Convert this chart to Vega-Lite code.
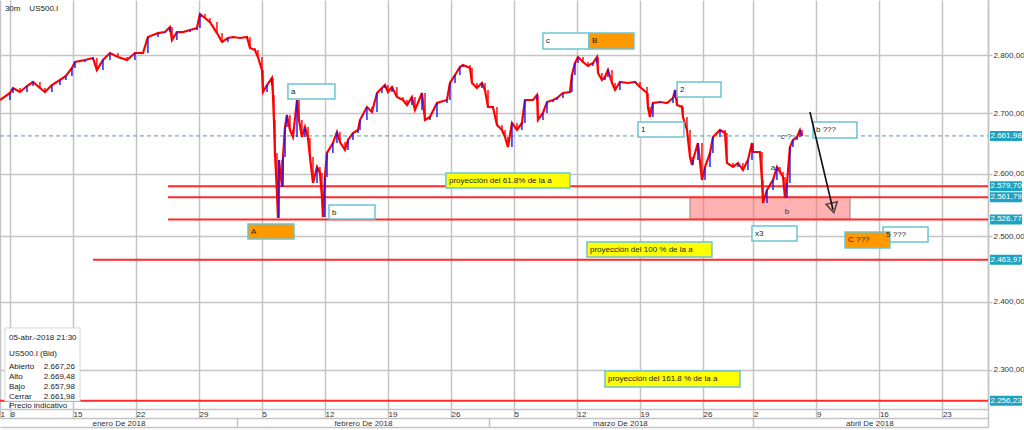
{
  "$schema": "https://vega.github.io/schema/vega-lite/v6.json",
  "width": 988,
  "height": 409,
  "autosize": {"type": "none"},
  "padding": {"left": 0, "top": 0, "right": 36, "bottom": 21},
  "background": "white",
  "config": {
    "locale": {"number": {"decimal": ",", "thousands": ".", "grouping": [3], "currency": ["", ""]}},
    "view": {"stroke": null},
    "font": "Liberation Sans",
    "text": {"font": "Liberation Sans", "fontSize": 8, "color": "#222222"},
    "axis": {"labelFont": "Liberation Sans", "labelFontSize": 8, "labelColor": "#333333", "gridColor": "#c4c4c4", "gridWidth": 1.5, "domainColor": "#c4c4c4", "domainWidth": 1.5, "tickColor": "#c4c4c4", "tickWidth": 1.5}
  },
  "datasets": {
    "price": [
      {"t":-0.79,"p":2722.4},{"t":0,"p":2734.3},{"t":0.24,"p":2742.9},{"t":0.79,"p":2736.0},{"t":1.35,"p":2746.3},{"t":1.83,"p":2753.2},{"t":2.38,"p":2742.9},{"t":2.78,"p":2736.0},{"t":3.33,"p":2748.0},{"t":3.97,"p":2756.6},{"t":4.44,"p":2763.5},{"t":4.92,"p":2777.4},{"t":5.16,"p":2787.8},{"t":5.95,"p":2791.3},{"t":6.59,"p":2794.8},{"t":6.9,"p":2773.9},{"t":7.38,"p":2791.3},{"t":7.94,"p":2803.5},{"t":8.57,"p":2796.5},{"t":9.29,"p":2791.3},{"t":9.92,"p":2803.5},{"t":10.56,"p":2803.5},{"t":10.95,"p":2831.7},{"t":11.75,"p":2838.7},{"t":12.3,"p":2840.5},{"t":12.7,"p":2849.4},{"t":12.86,"p":2826.3},{"t":13.25,"p":2840.5},{"t":13.73,"p":2840.5},{"t":14.29,"p":2844.1},{"t":14.84,"p":2847.6},{"t":15.08,"p":2872.6},{"t":15.48,"p":2865.5},{"t":15.87,"p":2858.3},{"t":16.43,"p":2838.7},{"t":16.83,"p":2822.8},{"t":17.3,"p":2829.9},{"t":17.7,"p":2831.7},{"t":18.25,"p":2829.9},{"t":18.81,"p":2831.7},{"t":19.05,"p":2812.3},{"t":19.44,"p":2808.8},{"t":19.68,"p":2796.5},{"t":20.0,"p":2773.9},{"t":20.08,"p":2736.0},{"t":20.4,"p":2748.0},{"t":20.79,"p":2760.1},{"t":20.87,"p":2730.9},{"t":20.95,"p":2688.6},{"t":21.03,"p":2633.8},{"t":21.19,"p":2568.8},{"t":21.27,"p":2529.0},{"t":21.35,"p":2622.3},{"t":21.59,"p":2578.5},{"t":21.67,"p":2627.2},{"t":21.83,"p":2676.9},{"t":21.98,"p":2697.0},{"t":22.22,"p":2671.9},{"t":22.46,"p":2660.2},{"t":22.78,"p":2722.4},{"t":22.94,"p":2688.6},{"t":23.17,"p":2660.2},{"t":23.41,"p":2676.9},{"t":23.65,"p":2658.6},{"t":23.81,"p":2627.2},{"t":24.05,"p":2584.9},{"t":24.37,"p":2610.9},{"t":24.6,"p":2601.2},{"t":24.76,"p":2562.5},{"t":24.84,"p":2530.6},{"t":25.0,"p":2594.6},{"t":25.16,"p":2633.8},{"t":25.63,"p":2650.2},{"t":25.95,"p":2668.5},{"t":26.19,"p":2651.9},{"t":26.59,"p":2638.7},{"t":26.83,"p":2655.2},{"t":27.22,"p":2666.9},{"t":27.62,"p":2671.9},{"t":27.78,"p":2688.6},{"t":28.33,"p":2710.5},{"t":28.73,"p":2702.1},{"t":29.13,"p":2734.3},{"t":29.52,"p":2742.9},{"t":29.76,"p":2748.0},{"t":30.0,"p":2736.0},{"t":30.32,"p":2744.6},{"t":30.71,"p":2727.5},{"t":31.19,"p":2722.4},{"t":31.51,"p":2713.9},{"t":31.9,"p":2727.5},{"t":32.14,"p":2705.4},{"t":32.7,"p":2734.3},{"t":32.94,"p":2688.6},{"t":33.33,"p":2693.6},{"t":33.89,"p":2717.3},{"t":34.68,"p":2722.4},{"t":34.92,"p":2751.5},{"t":35.32,"p":2765.2},{"t":35.71,"p":2779.1},{"t":35.95,"p":2782.6},{"t":36.51,"p":2777.4},{"t":36.67,"p":2751.5},{"t":37.06,"p":2742.9},{"t":37.46,"p":2751.5},{"t":37.7,"p":2739.5},{"t":37.94,"p":2710.5},{"t":38.33,"p":2710.5},{"t":38.65,"p":2680.2},{"t":39.05,"p":2671.9},{"t":39.29,"p":2660.2},{"t":39.52,"p":2643.6},{"t":39.84,"p":2683.6},{"t":40.24,"p":2671.9},{"t":40.63,"p":2683.6},{"t":40.87,"p":2722.4},{"t":41.51,"p":2722.4},{"t":41.83,"p":2730.9},{"t":41.9,"p":2688.6},{"t":42.3,"p":2700.4},{"t":42.62,"p":2719.0},{"t":43.1,"p":2722.4},{"t":43.41,"p":2725.8},{"t":43.89,"p":2734.3},{"t":44.44,"p":2736.0},{"t":44.6,"p":2765.2},{"t":44.84,"p":2786.0},{"t":45.08,"p":2796.5},{"t":45.48,"p":2787.8},{"t":45.87,"p":2780.8},{"t":46.27,"p":2786.0},{"t":46.59,"p":2796.5},{"t":46.67,"p":2768.7},{"t":46.98,"p":2756.6},{"t":47.22,"p":2761.8},{"t":47.46,"p":2773.9},{"t":47.78,"p":2751.5},{"t":48.02,"p":2739.5},{"t":48.41,"p":2753.2},{"t":49.05,"p":2751.5},{"t":49.6,"p":2753.2},{"t":50.0,"p":2744.6},{"t":50.56,"p":2734.3},{"t":50.63,"p":2710.5},{"t":50.79,"p":2693.6},{"t":51.03,"p":2717.3},{"t":51.59,"p":2719.0},{"t":52.14,"p":2717.3},{"t":52.62,"p":2725.8},{"t":52.78,"p":2739.5},{"t":52.94,"p":2713.9},{"t":53.33,"p":2710.5},{"t":53.41,"p":2693.6},{"t":53.73,"p":2671.9},{"t":53.97,"p":2627.2},{"t":54.13,"p":2614.1},{"t":54.21,"p":2622.3},{"t":54.6,"p":2650.2},{"t":54.92,"p":2589.8},{"t":55.16,"p":2610.9},{"t":55.56,"p":2633.8},{"t":55.79,"p":2660.2},{"t":56.35,"p":2671.9},{"t":56.75,"p":2666.9},{"t":56.9,"p":2617.4},{"t":57.38,"p":2610.9},{"t":57.78,"p":2617.4},{"t":58.17,"p":2606.0},{"t":58.57,"p":2622.3},{"t":58.89,"p":2650.2},{"t":58.97,"p":2635.4},{"t":59.52,"p":2635.4},{"t":59.68,"p":2589.8},{"t":59.76,"p":2552.9},{"t":60.08,"p":2573.7},{"t":60.56,"p":2589.8},{"t":60.87,"p":2610.9},{"t":61.11,"p":2602.8},{"t":61.35,"p":2594.6},{"t":61.51,"p":2560.9},{"t":61.67,"p":2584.9},{"t":61.9,"p":2643.6},{"t":62.14,"p":2655.2},{"t":62.46,"p":2660.2},{"t":62.7,"p":2671.9},{"t":62.86,"p":2661.98}
    ],
    "levels": [
      {"p": 2579.70, "t1": 12.54, "t2": 77.62},
      {"p": 2561.79, "t1": 12.54, "t2": 77.62},
      {"p": 2526.77, "t1": 12.54, "t2": 77.62},
      {"p": 2463.97, "t1": 6.59, "t2": 77.62},
      {"p": 2256.23, "t1": -0.79, "t2": 77.62}
    ],
    "tags": [
      {"p": 2661.98}, {"p": 2579.70}, {"p": 2561.79}, {"p": 2526.77}, {"p": 2463.97}, {"p": 2256.23}
    ],
    "zone": [
      {"t1": 53.97, "t2": 66.67, "p1": 2561.79, "p2": 2526.77}
    ],
    "boxes": [
      {"label": "a", "kind": "wave", "t1": 22.06, "t2": 25.79, "p1": 2749.7, "p2": 2724.1},
      {"label": "b", "kind": "wave", "t1": 25.32, "t2": 28.97, "p1": 2549.7, "p2": 2527.4},
      {"label": "A", "kind": "target", "t1": 18.89, "t2": 22.54, "p1": 2519.5, "p2": 2496.0},
      {"label": "c", "kind": "wave", "t1": 42.3, "t2": 45.95, "p1": 2838.7, "p2": 2810.5},
      {"label": "B", "kind": "target", "t1": 45.95, "t2": 49.52, "p1": 2838.7, "p2": 2810.5},
      {"label": "2", "kind": "wave", "t1": 52.94, "t2": 56.43, "p1": 2753.2, "p2": 2727.5},
      {"label": "1", "kind": "wave", "t1": 49.84, "t2": 53.49, "p1": 2685.3, "p2": 2660.2},
      {"label": "b ???", "kind": "wave", "t1": 63.73, "t2": 67.22, "p1": 2685.3, "p2": 2658.6},
      {"label": "x3", "kind": "wave", "t1": 58.89, "t2": 62.46, "p1": 2516.4, "p2": 2492.9},
      {"label": "5 ???", "kind": "wave", "t1": 69.29, "t2": 72.86, "p1": 2514.8, "p2": 2491.3},
      {"label": "C ???", "kind": "target", "t1": 66.27, "t2": 69.84, "p1": 2506.9, "p2": 2482.0},
      {"label": "proyección del 61.8% de la a", "kind": "proj", "t1": 34.6, "t2": 44.44, "p1": 2601.2, "p2": 2576.8},
      {"label": "proyección del 100 % de la a", "kind": "proj", "t1": 45.79, "t2": 55.71, "p1": 2491.3, "p2": 2468.1},
      {"label": "proyección del 161.8 % de la a", "kind": "proj", "t1": 47.22, "t2": 57.94, "p1": 2298.4, "p2": 2275.5}
    ],
    "notes": [
      {"label": "c ?", "t": 61.6, "p": 2660.2},
      {"label": "a", "t": 60.56, "p": 2609.2},
      {"label": "b", "t": 61.67, "p": 2538.5}
    ],
    "arrow": [
      {"t1": 63.49, "p1": 2702.1, "t2": 65.32, "p2": 2542.0}
    ],
    "head": [
      {"t": 65.3, "p": 2545.0}
    ],
    "infobox": [
      {"t1": -0.4, "t2": 5.56, "p1": 2361.1, "p2": 2255.6}
    ],
    "info": [
      {"role": "date", "label": "05-abr.-2018 21:30", "t": -0.08, "p": 2346.5},
      {"role": "head", "label": "US500.I (Bid)", "t": -0.08, "p": 2323.3},
      {"role": "name", "label": "Abierto", "t": -0.08, "p": 2304.6},
      {"role": "name", "label": "Alto", "t": -0.08, "p": 2290.3},
      {"role": "name", "label": "Bajo", "t": -0.08, "p": 2275.5},
      {"role": "name", "label": "Cerrar", "t": -0.08, "p": 2261.6},
      {"role": "name", "label": "Precio indicativo", "t": -0.08, "p": 2248.7},
      {"role": "value", "label": "2.667,26", "t": 5.16, "p": 2304.6},
      {"role": "value", "label": "2.669,48", "t": 5.16, "p": 2290.3},
      {"role": "value", "label": "2.657,98", "t": 5.16, "p": 2275.5},
      {"role": "value", "label": "2.661,98", "t": 5.16, "p": 2261.6}
    ],
    "header": [
      {"label": "30m\u00a0\u00a0\u00a0\u00a0US500.I", "t": -0.4, "p": 2881.6}
    ]
  },
  "resolve": {"axis": {"x": "independent", "y": "independent"}},
  "layer": [
    {
      "data": {"name": "zone"},
      "mark": {"type": "rect", "fill": "#ff6666", "fillOpacity": 0.5, "stroke": "#9a8080", "strokeWidth": 1},
      "encoding": {
        "x": {"field": "t1", "type": "quantitative", "scale": {"domain": [-0.79, 77.62], "nice": false, "zero": false},
              "axis": {"orient": "bottom", "offset": 9, "values": [18, 38, 59, 77.62], "labels": false, "ticks": true, "tickSize": 9, "domain": false, "grid": false, "title": null}},
        "x2": {"field": "t2"},
        "y": {"field": "p1", "type": "quantitative", "scale": {"type": "log", "domain": [2244.5, 2897.9], "nice": false, "zero": false}, "title": null,
              "axis": {"orient": "right", "values": [2300, 2400, 2500, 2600, 2700, 2800], "format": ",.2f", "grid": true, "tickSize": 4, "domain": true, "labelPadding": 1, "labelBaseline": "middle", "title": null}},
        "y2": {"field": "p2"}
      }
    },
    {
      "data": {"name": "tags"},
      "transform": [{"filter": "datum.p > 2600"}],
      "mark": {"type": "rule", "color": "#4e9ea6", "strokeWidth": 1, "strokeDash": [4, 3]},
      "encoding": {
        "x": {"datum": -0.79, "type": "quantitative", "scale": {"domain": [-0.79, 77.62], "nice": false, "zero": false}, "axis": null},
        "x2": {"datum": 77.62},
        "y": {"field": "p", "type": "quantitative", "scale": {"type": "log", "domain": [2244.5, 2897.9], "nice": false, "zero": false}, "title": null, "axis": null}
      }
    },
    {
      "data": {"name": "levels"},
      "mark": {"type": "rule", "color": "#ff2a2a", "strokeWidth": 2},
      "encoding": {
        "x": {"field": "t1", "type": "quantitative", "scale": {"domain": [-0.79, 77.62], "nice": false, "zero": false},
              "axis": {"orient": "bottom", "offset": 9, "values": [8.61, 28.02, 48.41, 68.2],
                       "labelExpr": "['enero De 2018','febrero De 2018','marzo De 2018','abril De 2018'][indexof([8.61,28.02,48.41,68.2], datum.value)]",
                       "ticks": false, "tickSize": 0, "grid": false, "domain": true, "labelBaseline": "top", "labelPadding": 1, "labelAlign": "center", "labelOverlap": false, "labelFlush": false, "title": null}},
        "x2": {"field": "t2"},
        "y": {"field": "p", "type": "quantitative", "scale": {"type": "log", "domain": [2244.5, 2897.9], "nice": false, "zero": false}, "title": null, "axis": null}
      }
    },
    {
      "data": {"name": "price"},
      "mark": {"type": "line", "color": "#ff0000", "strokeWidth": 2.2, "strokeJoin": "miter"},
      "encoding": {
        "x": {"field": "t", "type": "quantitative", "scale": {"domain": [-0.79, 77.62], "nice": false, "zero": false},
              "axis": {"orient": "bottom", "values": [-0.79, 0, 5, 10, 15, 20, 25, 30, 35, 40, 45, 50, 55, 59, 64, 69, 74, 77.62],
                       "labelExpr": "['1','8','15','22','29','5','12','19','26','5','12','19','26','2','9','16','23',''][indexof([-0.79,0,5,10,15,20,25,30,35,40,45,50,55,59,64,69,74,77.62], datum.value)]",
                       "grid": true, "tickSize": 9, "domain": true, "labelAlign": "left", "labelDx": 2, "labelBaseline": "top", "labelPadding": -8, "labelOverlap": false, "labelBound": false, "labelFlush": false, "title": null}},
        "y": {"field": "p", "type": "quantitative", "scale": {"type": "log", "domain": [2244.5, 2897.9], "nice": false, "zero": false}, "title": null, "axis": null}
      }
    },
    {
      "data": {"name": "price"},
      "transform": [
        {"window": [{"op": "lag", "field": "p", "as": "pp"}], "sort": [{"field": "t"}]},
        {"filter": "datum.pp != null"}
      ],
      "mark": {"type": "rule", "strokeWidth": 1.4},
      "encoding": {
        "x": {"field": "t", "type": "quantitative", "scale": {"domain": [-0.79, 77.62], "nice": false, "zero": false}, "axis": null},
        "y": {"field": "pp", "type": "quantitative", "scale": {"type": "log", "domain": [2244.5, 2897.9], "nice": false, "zero": false}, "title": null, "axis": null},
        "y2": {"field": "p"},
        "color": {"condition": {"test": "datum.p > datum.pp", "value": "#1414ff"}, "value": "#ff0000"}
      }
    },
    {
      "data": {"name": "boxes"},
      "mark": {"type": "rect", "stroke": "#6cc4d2", "strokeWidth": 1.5},
      "encoding": {
        "x": {"field": "t1", "type": "quantitative", "scale": {"domain": [-0.79, 77.62], "nice": false, "zero": false},
              "axis": {"orient": "bottom", "offset": 18, "labels": false, "ticks": false, "grid": false, "domain": true, "title": null}},
        "x2": {"field": "t2"},
        "y": {"field": "p1", "type": "quantitative", "scale": {"type": "log", "domain": [2244.5, 2897.9], "nice": false, "zero": false}, "title": null, "axis": null},
        "y2": {"field": "p2"},
        "fill": {"field": "kind", "type": "nominal", "scale": {"domain": ["wave", "target", "proj"], "range": ["#ffffff", "#ff9900", "#ffff00"]}, "legend": null}
      }
    },
    {
      "data": {"name": "boxes"},
      "mark": {"type": "text", "align": "left", "baseline": "top", "dx": 3, "dy": 4, "fontSize": 8, "color": "#222222"},
      "encoding": {
        "x": {"field": "t1", "type": "quantitative", "scale": {"domain": [-0.79, 77.62], "nice": false, "zero": false}, "axis": null},
        "y": {"field": "p1", "type": "quantitative", "scale": {"type": "log", "domain": [2244.5, 2897.9], "nice": false, "zero": false}, "title": null, "axis": null},
        "text": {"field": "label"}
      }
    },
    {
      "data": {"name": "notes"},
      "mark": {"type": "text", "align": "center", "baseline": "middle", "fontSize": 8, "color": "#333333"},
      "encoding": {
        "x": {"field": "t", "type": "quantitative", "scale": {"domain": [-0.79, 77.62], "nice": false, "zero": false}, "axis": null},
        "y": {"field": "p", "type": "quantitative", "scale": {"type": "log", "domain": [2244.5, 2897.9], "nice": false, "zero": false}, "title": null, "axis": null},
        "text": {"field": "label"}
      }
    },
    {
      "data": {"name": "arrow"},
      "mark": {"type": "rule", "color": "#111111", "strokeWidth": 1.6},
      "encoding": {
        "x": {"field": "t1", "type": "quantitative", "scale": {"domain": [-0.79, 77.62], "nice": false, "zero": false}, "axis": null},
        "x2": {"field": "t2"},
        "y": {"field": "p1", "type": "quantitative", "scale": {"type": "log", "domain": [2244.5, 2897.9], "nice": false, "zero": false}, "title": null, "axis": null},
        "y2": {"field": "p2"}
      }
    },
    {
      "data": {"name": "head"},
      "mark": {"type": "point", "shape": "triangle-down", "size": 130, "filled": false, "stroke": "#111111", "strokeWidth": 1.5, "angle": 347},
      "encoding": {
        "x": {"field": "t", "type": "quantitative", "scale": {"domain": [-0.79, 77.62], "nice": false, "zero": false}, "axis": null},
        "y": {"field": "p", "type": "quantitative", "scale": {"type": "log", "domain": [2244.5, 2897.9], "nice": false, "zero": false}, "title": null, "axis": null}
      }
    },
    {
      "data": {"name": "infobox"},
      "mark": {"type": "rect", "fill": "#ffffff", "stroke": "#d6d6d6", "strokeWidth": 1},
      "encoding": {
        "x": {"field": "t1", "type": "quantitative", "scale": {"domain": [-0.79, 77.62], "nice": false, "zero": false}, "axis": null},
        "x2": {"field": "t2"},
        "y": {"field": "p1", "type": "quantitative", "scale": {"type": "log", "domain": [2244.5, 2897.9], "nice": false, "zero": false}, "title": null, "axis": null},
        "y2": {"field": "p2"}
      }
    },
    {
      "data": {"name": "info"},
      "transform": [{"filter": "datum.role != 'value'"}],
      "mark": {"type": "text", "align": "left", "baseline": "middle", "fontSize": 8, "color": "#222222"},
      "encoding": {
        "x": {"field": "t", "type": "quantitative", "scale": {"domain": [-0.79, 77.62], "nice": false, "zero": false}, "axis": null},
        "y": {"field": "p", "type": "quantitative", "scale": {"type": "log", "domain": [2244.5, 2897.9], "nice": false, "zero": false}, "title": null, "axis": null},
        "text": {"field": "label"},
        "fontWeight": {"condition": {"test": "datum.role == 'head'", "value": "bold"}, "value": "normal"}
      }
    },
    {
      "data": {"name": "info"},
      "transform": [{"filter": "datum.role == 'value'"}],
      "mark": {"type": "text", "align": "right", "baseline": "middle", "fontSize": 8, "color": "#222222"},
      "encoding": {
        "x": {"field": "t", "type": "quantitative", "scale": {"domain": [-0.79, 77.62], "nice": false, "zero": false}, "axis": null},
        "y": {"field": "p", "type": "quantitative", "scale": {"type": "log", "domain": [2244.5, 2897.9], "nice": false, "zero": false}, "title": null, "axis": null},
        "text": {"field": "label"}
      }
    },
    {
      "data": {"name": "tags"},
      "mark": {"type": "rule", "color": "#1ca3c1", "strokeWidth": 10, "strokeCap": "butt"},
      "encoding": {
        "x": {"datum": 77.78, "type": "quantitative", "scale": {"domain": [-0.79, 77.62], "nice": false, "zero": false}, "axis": null},
        "x2": {"datum": 80.32},
        "y": {"field": "p", "type": "quantitative", "scale": {"type": "log", "domain": [2244.5, 2897.9], "nice": false, "zero": false}, "title": null, "axis": null}
      }
    },
    {
      "data": {"name": "tags"},
      "mark": {"type": "text", "align": "center", "baseline": "middle", "fontSize": 8, "color": "#ffffff"},
      "encoding": {
        "x": {"datum": 79.05, "type": "quantitative", "scale": {"domain": [-0.79, 77.62], "nice": false, "zero": false}, "axis": null},
        "y": {"field": "p", "type": "quantitative", "scale": {"type": "log", "domain": [2244.5, 2897.9], "nice": false, "zero": false}, "title": null, "axis": null},
        "text": {"field": "p", "type": "quantitative", "format": ",.2f"}
      }
    },
    {
      "data": {"name": "header"},
      "mark": {"type": "text", "align": "left", "baseline": "middle", "fontSize": 8, "color": "#222222"},
      "encoding": {
        "x": {"field": "t", "type": "quantitative", "scale": {"domain": [-0.79, 77.62], "nice": false, "zero": false}, "axis": null},
        "y": {"field": "p", "type": "quantitative", "scale": {"type": "log", "domain": [2244.5, 2897.9], "nice": false, "zero": false}, "title": null, "axis": null},
        "text": {"field": "label"}
      }
    }
  ]
}
